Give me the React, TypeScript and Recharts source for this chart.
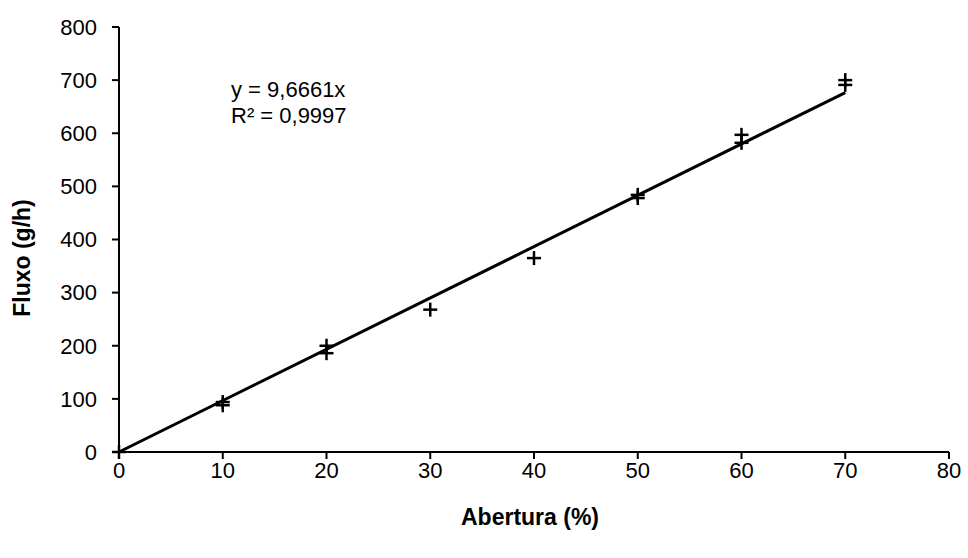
import React from 'react';
import { ScatterChart, Scatter, XAxis, YAxis } from 'recharts';

// measured points (Abertura %, Fluxo g/h)
const abertura = [0, 10, 10, 20, 20, 30, 40, 50, 50, 60, 60, 70, 70];
const fluxo = [0, 94, 88, 200, 186, 268, 365, 484, 478, 597, 582, 700, 691];

// trendline y = 9,6661x
const slope = 9.6661;
const trendX = [0, 70];

const xTicks = [0, 10, 20, 30, 40, 50, 60, 70, 80];
const yTicks = [0, 100, 200, 300, 400, 500, 600, 700, 800];

const points = abertura.map((x, i) => ({ x, y: fluxo[i] }));
const trend = trendX.map((x) => ({ x, y: slope * x }));

const font = '"Liberation Sans", Arial, sans-serif';

// drop the default body margin so the full 968px width is usable
if (typeof document !== 'undefined') {
  document.body.style.margin = '0';
  document.body.style.overflow = 'hidden';
}

const Plus = (props: any) => {
  const { cx, cy } = props;
  if (cx == null || cy == null) return null;
  return (
    <g stroke="#000" strokeWidth={2.5}>
      <line x1={cx - 7} y1={cy} x2={cx + 7} y2={cy} />
      <line x1={cx} y1={cy - 7} x2={cx} y2={cy + 7} />
    </g>
  );
};

const App: React.FC = () => {
  return (
    <div style={{ position: 'relative', width: 968, height: 558, fontFamily: font, color: '#000' }}>
      <ScatterChart width={968} height={558} margin={{ top: 27, right: 19, bottom: 60, left: 39 }}>
        <XAxis
          type="number"
          dataKey="x"
          domain={[0, 80]}
          ticks={xTicks}
          axisLine={{ stroke: '#000', strokeWidth: 2 }}
          tickLine={{ stroke: '#000', strokeWidth: 2 }}
          tickSize={7}
          tickMargin={3}
          height={46}
          tick={{ fill: '#000', fontSize: 22, fontFamily: font }}
        />
        <YAxis
          type="number"
          dataKey="y"
          domain={[0, 800]}
          ticks={yTicks}
          axisLine={{ stroke: '#000', strokeWidth: 2 }}
          tickLine={{ stroke: '#000', strokeWidth: 2 }}
          tickSize={7}
          tickMargin={15}
          width={80}
          tick={{ fill: '#000', fontSize: 22, fontFamily: font }}
        />
        <Scatter
          data={trend}
          line={{ stroke: '#000', strokeWidth: 3 }}
          shape={() => null}
          isAnimationActive={false}
        />
        <Scatter data={points} shape={<Plus />} isAnimationActive={false} />
      </ScatterChart>
      <div style={{ position: 'absolute', left: 231, top: 77, fontSize: 22, lineHeight: '26px' }}>
        <div>y = 9,6661x</div>
        <div>R² = 0,9997</div>
      </div>
      <div
        style={{
          position: 'absolute',
          left: 530,
          top: 517,
          transform: 'translate(-50%, -50%)',
          fontSize: 23,
          fontWeight: 'bold',
          whiteSpace: 'nowrap',
        }}
      >
        Abertura (%)
      </div>
      <div
        style={{
          position: 'absolute',
          left: 22,
          top: 258,
          transform: 'translate(-50%, -50%) rotate(-90deg)',
          fontSize: 23,
          fontWeight: 'bold',
          whiteSpace: 'nowrap',
        }}
      >
        Fluxo (g/h)
      </div>
    </div>
  );
};

export default App;
